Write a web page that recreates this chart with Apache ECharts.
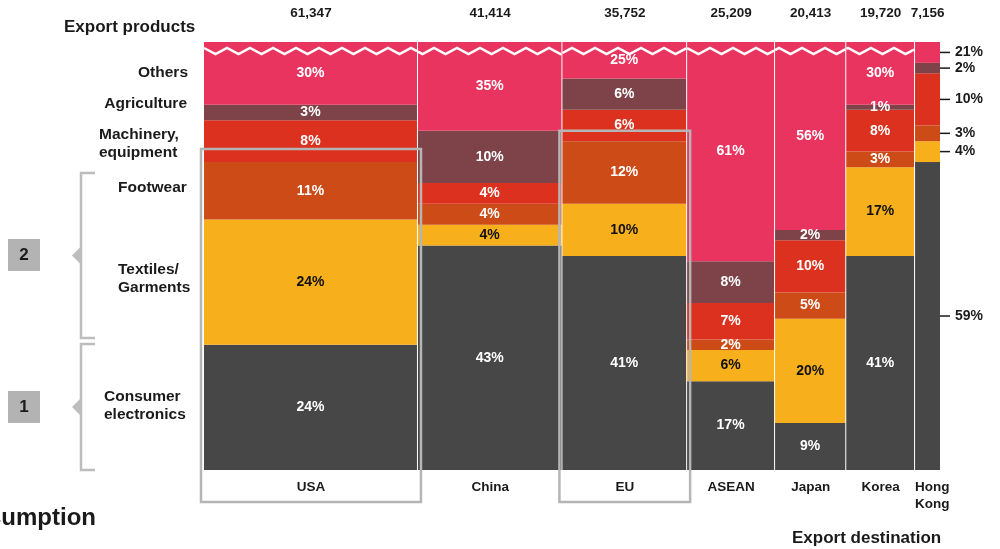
<!DOCTYPE html>
<html>
<head>
<meta charset="utf-8">
<title>Export products by destination</title>
<script src="https://cdn.jsdelivr.net/npm/echarts@6/dist/echarts.min.js"></script>
<style>
  html, body { margin: 0; padding: 0; background: #fff; }
  #chart { width: 1000px; height: 549px; }
</style>
</head>
<body>
<div id="chart"></div>
<script>
// Export destinations and total export values (column widths)
const destinations = ['USA', 'China', 'EU', 'ASEAN', 'Japan', 'Korea', 'Hong\nKong'];
const exportTotals = [61347, 41414, 35752, 25209, 20413, 19720, 7156];

// Share of each product group per destination, in percent (bottom to top)
const electronics = [24, 43, 41, 17, 9, 41, 59];
const textiles    = [24, 4, 10, 6, 20, 17, 4];
const footwear    = [11, 4, 12, 2, 5, 3, 3];
const machinery   = [8, 4, 6, 7, 10, 8, 10];
const agriculture = [3, 10, 6, 8, 2, 1, 2];
const others      = [30, 35, 25, 61, 56, 30, 21];

// Destinations outlined with a grey frame
const highlighted = [0, 2];

const FONT = '"Liberation Sans", Arial, Helvetica, sans-serif';
const DARK = '#1a1a1a';
const Y_MAX = 82;   // upper part of the "Others" band is cut off (zigzag break)

const products = [
  { name: 'Consumer electronics', values: electronics, color: '#474747', text: '#ffffff' },
  { name: 'Textiles/Garments',    values: textiles,    color: '#f7b01c', text: '#111111' },
  { name: 'Footwear',             values: footwear,    color: '#cc4b17', text: '#ffffff' },
  { name: 'Machinery, equipment', values: machinery,   color: '#dc311e', text: '#ffffff' },
  { name: 'Agriculture',          values: agriculture, color: '#7e4349', text: '#ffffff' },
  { name: 'Others',               values: others,      color: '#e8345e', text: '#ffffff' }
];

const grandTotal = exportTotals.reduce((a, b) => a + b, 0);
const colStart = [];
{
  let acc = 0;
  exportTotals.forEach(v => { colStart.push(acc); acc += v; });
}
const lastCol = destinations.length - 1;

// stacked base for each product in each column
const bases = destinations.map(() => 0);
const productSeries = products.map((p, pi) => {
  const data = destinations.map((d, i) => {
    const y0 = bases[i];
    const y1 = y0 + p.values[i];
    bases[i] = y1;
    return [colStart[i], colStart[i] + exportTotals[i], y0, y1, p.values[i], i];
  });
  const isTop = pi === products.length - 1;
  return {
    type: 'custom',
    name: p.name,
    clip: false,
    data: data,
    renderItem: function (params, api) {
      const x0 = api.value(0), x1 = api.value(1);
      const y0 = api.value(2), y1 = api.value(3);
      const pct = api.value(4), col = api.value(5);
      const cs = params.coordSys;
      const pA = api.coord([x0, y0]);
      const pB = api.coord([x1, y1]);
      const top = Math.max(pB[1], cs.y);
      const bottom = Math.min(pA[1], cs.y + cs.height);
      const left = pA[0];
      const right = col === lastCol ? pB[0] : pB[0] - 1;
      const mid = (top + bottom) / 2;
      const children = [{
        type: 'rect',
        shape: { x: left, y: top, width: right - left, height: bottom - top },
        style: { fill: p.color }
      }];
      if (col === lastCol) {
        children.push({
          type: 'line',
          z2: 10,
          shape: { x1: right, y1: mid, x2: right + 10, y2: mid },
          style: { stroke: DARK, lineWidth: 1.5 }
        });
        children.push({
          type: 'text',
          z2: 10,
          style: {
            text: pct + '%', x: right + 15, y: mid,
            align: 'left', verticalAlign: 'middle',
            fill: DARK, font: 'bold 14px ' + FONT
          }
        });
      } else {
        children.push({
          type: 'text',
          z2: 10,
          style: {
            text: pct + '%', x: (left + right) / 2, y: mid,
            align: 'center', verticalAlign: 'middle',
            fill: p.text, font: 'bold 14px ' + FONT
          }
        });
        if (isTop) {
          // zigzag break line across the cut-off top band
          const period = 23, amp = 6;
          const yTop = cs.y + 6;
          const gx = cs.x;
          const wave = x => {
            const t = ((x - gx) / period) % 1;
            return yTop + amp * (t < 0.5 ? t * 2 : (1 - t) * 2);
          };
          const pts = [[left, wave(left)]];
          let k = Math.ceil((left - gx) / (period / 2));
          for (let x = gx + k * period / 2; x < right; x += period / 2) {
            if (x > left) pts.push([x, wave(x)]);
          }
          pts.push([right, wave(right)]);
          children.push({
            type: 'polyline',
            z2: 5,
            shape: { points: pts },
            style: { stroke: '#ffffff', lineWidth: 2.5, fill: null, lineJoin: 'miter' }
          });
        }
      }
      return { type: 'group', children: children };
    }
  };
});

// Column captions: destination name below, export total above
const captionSeries = {
  type: 'custom',
  name: 'captions',
  clip: false,
  data: destinations.map((d, i) => [colStart[i], colStart[i] + exportTotals[i], exportTotals[i], i]),
  renderItem: function (params, api) {
    const cs = params.coordSys;
    const x0 = api.coord([api.value(0), 0])[0];
    const x1 = api.coord([api.value(1), 0])[0];
    const i = api.value(3);
    const cx = (x0 + x1) / 2;
    const narrow = i === lastCol;
    return {
      type: 'group',
      children: [
        {
          type: 'text',
          style: {
            text: destinations[i],
            x: narrow ? x0 : cx, y: cs.y + cs.height + 9,
            align: narrow ? 'left' : 'center', verticalAlign: 'top',
            lineHeight: 17,
            fill: DARK, font: 'bold 13.5px ' + FONT
          }
        },
        {
          type: 'text',
          style: {
            text: api.value(2).toLocaleString('en-US'),
            x: cx, y: 13,
            align: 'center', verticalAlign: 'middle',
            fill: DARK, font: 'bold 13.5px ' + FONT
          }
        }
      ]
    };
  }
};

// Grey frames around selected destinations
const frameTop = { 0: 61.5, 2: 65 };
const frameSeries = {
  type: 'custom',
  name: 'frames',
  clip: false,
  z: 5,
  data: highlighted.map(i => [colStart[i], colStart[i] + exportTotals[i], i]),
  renderItem: function (params, api) {
    const cs = params.coordSys;
    const i = api.value(2);
    const a = api.coord([api.value(0), frameTop[i]]);
    const b = api.coord([api.value(1), 0]);
    const left = a[0] - 3, right = b[0] + 3;
    const bottom = cs.y + cs.height + 32;
    return {
      type: 'rect',
      shape: { x: left, y: a[1], width: right - left, height: bottom - a[1] },
      style: { fill: null, stroke: '#b5b5b5', lineWidth: 2.5 }
    };
  }
};

const leftLabel = (text, x, y, align) => ({
  type: 'text',
  style: {
    text: text, x: x, y: y, align: align, verticalAlign: 'middle',
    lineHeight: 18, fill: DARK, font: 'bold 15.5px ' + FONT
  }
});

const bracket = (y0, y1) => ([
  {
    type: 'polyline',
    shape: { points: [[95, y0], [81, y0], [81, y1], [95, y1]] },
    style: { stroke: '#bdbdbd', lineWidth: 2.5, fill: null }
  },
  {
    type: 'polygon',
    shape: { points: [[72, (y0 + y1) / 2], [81, (y0 + y1) / 2 - 9], [81, (y0 + y1) / 2 + 9]] },
    style: { fill: '#bdbdbd' }
  }
]);

const numberBox = (label, cy) => ([
  { type: 'rect', shape: { x: 8, y: cy - 16, width: 32, height: 32 }, style: { fill: '#b3b3b3' } },
  {
    type: 'text',
    style: {
      text: label, x: 24, y: cy, align: 'center', verticalAlign: 'middle',
      fill: DARK, font: 'bold 17px ' + FONT
    }
  }
]);

const chart = echarts.init(document.getElementById('chart'), null, { renderer: 'canvas' });
chart.setOption({
  animation: false,
  grid: { left: 204, right: 60, top: 42, bottom: 79 },
  xAxis: { type: 'value', min: 0, max: grandTotal, show: false },
  yAxis: { type: 'value', min: 0, max: Y_MAX, show: false },
  series: productSeries.concat([captionSeries, frameSeries]),
  graphic: [
    {
      type: 'text',
      style: {
        text: 'Export products', x: 64, y: 27, align: 'left', verticalAlign: 'middle',
        fill: DARK, font: 'bold 17px ' + FONT
      }
    },
    {
      type: 'text',
      style: {
        text: 'Export destination', x: 792, y: 538, align: 'left', verticalAlign: 'middle',
        fill: DARK, font: 'bold 17px ' + FONT
      }
    },
    {
      type: 'text',
      style: {
        text: 'Consumption', x: 96, y: 518, align: 'right', verticalAlign: 'middle',
        fill: DARK, font: 'bold 24px ' + FONT
      }
    },
    leftLabel('Others', 188, 73, 'right'),
    leftLabel('Agriculture', 187, 104, 'right'),
    leftLabel('Machinery,\nequipment', 99, 144, 'left'),
    leftLabel('Footwear', 118, 188, 'left'),
    leftLabel('Textiles/\nGarments', 118, 279, 'left'),
    leftLabel('Consumer\nelectronics', 104, 406, 'left')
  ].concat(bracket(173, 338), bracket(344, 470), numberBox('2', 255), numberBox('1', 407))
});
</script>
</body>
</html>
